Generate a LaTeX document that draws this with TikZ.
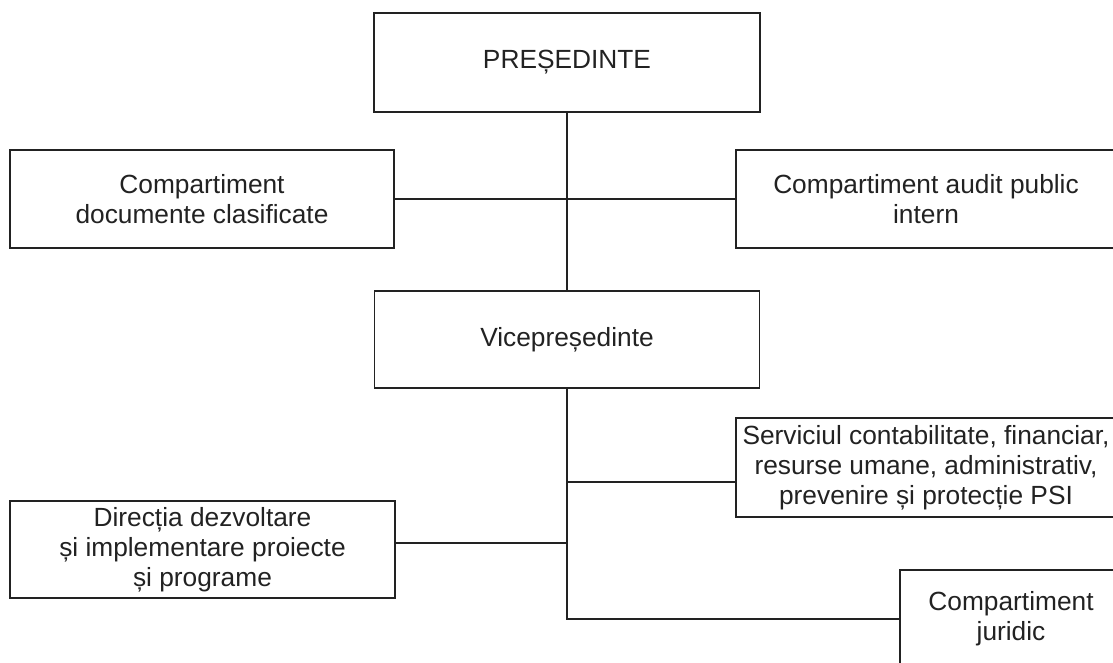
\documentclass[tikz,border=0pt]{standalone}
\usepackage{fontspec}
\setmainfont{Liberation Sans}
\usetikzlibrary{calc}
\definecolor{OrgLine}{HTML}{222222}

\begin{document}
\begin{tikzpicture}[x=1pt, y=-1pt, line width=1.4pt, draw=OrgLine,
  every node/.style={font=\fontsize{26.3}{30}\selectfont, align=center, text=OrgLine},
  unit/.style={draw=OrgLine, inner sep=0pt}]
\useasboundingbox (0,0) rectangle (1113,662);
\node[unit, minimum width=386pt, minimum height=99pt] (pres) at (567,62.5) {PREȘEDINTE};
\node[unit, minimum width=384pt, minimum height=98pt] (docclas) at (202,199) {Compartiment\\documente clasificate};
\node[unit, minimum width=380pt, minimum height=98pt] (audit) at (926,199) {Compartiment audit public\\intern};
\node[unit, minimum width=385pt, minimum height=97pt] (vice) at (567,339.5) {Vicepreședinte};
\node[unit, minimum width=380pt, minimum height=99pt] (serv) at (926,467.5) {Serviciul contabilitate, financiar,\\resurse umane, administrativ,\\prevenire și protecție PSI};
\node[unit, minimum width=385pt, minimum height=97pt] (dir) at (202.5,549.5) {Direcția dezvoltare\\și implementare proiecte\\și programe};
\node[unit, minimum width=222pt, minimum height=98pt] (jur) at (1011,619) {Compartiment\\juridic};
% connectors
\draw (pres) -- (vice);
\draw (docclas) -- (audit);
\draw (vice.south) |- (jur.west);
\coordinate (servin) at ([yshift=-14.5pt]serv.west);
\coordinate (dirin) at ([yshift=6.5pt]dir.east);
\draw (servin) -- (servin -| vice.south);
\draw (dirin) -- (dirin -| vice.south);
\end{tikzpicture}
\end{document}
